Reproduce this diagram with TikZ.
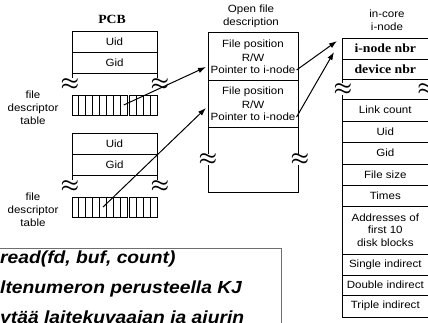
\documentclass[tikz,border=0pt]{standalone}
\usepackage{fontspec}
\setmainfont{Liberation Sans}[FakeStretch=1.1]
\newfontfamily\hdserif{Liberation Serif}[FakeStretch=1.1]
\usetikzlibrary{arrows.meta,positioning}
\definecolor{txtbox}{RGB}{110,110,110}
\tikzset{
  fld/.style={draw, line width=0.9pt, inner sep=0pt, outer sep=0pt,
              minimum width=85pt, minimum height=21pt, font=\fontsize{10.5}{12.5}\selectfont},
  inrow/.style={fld, minimum width=86.6pt, align=center},
  bfrow/.style={inrow, font=\hdserif\bfseries\fontsize{12.5}{14}\selectfont},
  fdc/.style={draw, line width=0.9pt, inner sep=0pt, outer sep=0pt,
              minimum width=6.9pt, minimum height=20pt},
  brk/.style={fill=white, inner sep=0pt, font=\boldmath\fontsize{20}{20}\selectfont},
  lbl/.style={align=center, inner sep=0pt, font=\fontsize{10.5}{13}\selectfont},
  txt/.style={inner sep=1pt, font=\fontsize{10.5}{12.5}\selectfont},
  hdr/.style={inner sep=0pt, font=\hdserif\bfseries\fontsize{12.5}{14}\selectfont},
  ptr/.style={-{Latex[length=8pt,width=5.5pt]}, line width=1pt},
  big/.style={anchor=base west, inner sep=0pt, font=\bfseries\itshape\fontsize{17.5}{20}\selectfont},
}
\newcommand{\pcbblock}[1]{%
  \node[fld] (#1uid) at (114.5,41.5) {Uid};
  \node[fld, below=0pt of #1uid] (#1gid) {Gid};
  \draw[line width=0.9pt] (72,73) -- (72,78);
  \draw[line width=0.9pt] (157,73) -- (157,78);
  \node[brk] (#1bl) at (70,84) {$\approx$};
  \node[brk] (#1br) at (160,84) {$\approx$};
  \foreach \i in {0,...,7}{\node[fdc] (#1fd\i) at (75.45+6.9*\i,105) {};}
  \foreach \i in {0,...,3}{\node[fdc, minimum width=7pt] (#1fe\i) at (132.5+7*\i,105) {};}
  \node[lbl] (#1lbl) at (33,108) {file\\descriptor\\table};}

\begin{document}
\begin{tikzpicture}[x=1pt, y=-1pt]
  \useasboundingbox (0,0) rectangle (428,322);
  % PCBs
  \node[hdr] (pcb) at (112,19) {PCB};
  \begin{scope}
    \pcbblock{a}
  \end{scope}
  \begin{scope}[shift={(0,102)}]
    \pcbblock{b}
  \end{scope}
  % open file description
  \node[lbl] (oftit) at (251,16.5) {Open file\\description};
  \node[fld, minimum width=90pt, minimum height=48pt] (of1) at (253,56) {};
  \node[txt] (fp1) at (253,45) {File position};
  \node[txt] (rw1) at (253,57.5) {R/W};
  \node[txt] (ptr1) at (253,70) {Pointer to i-node};
  \node[fld, minimum width=90pt, minimum height=47pt, below=0pt of of1] (of2) {};
  \node[txt] (fp2) at (253,92) {File position};
  \node[txt] (rw2) at (253,104.5) {R/W};
  \node[txt] (ptr2) at (253,117) {Pointer to i-node};
  \node[fld, minimum width=90pt, minimum height=65pt, below=0pt of of2] (ofr) {};
  \node[brk] (ofbl) at (ofr.west) {$\approx$};
  \node[brk] (ofbr) at ([xshift=2pt]ofr.east) {$\approx$};
  % in-core i-node
  \node[lbl] (ictit) at (387,20.5) {in-core\\i-node};
  \node[bfrow] (inbr) at (385.3,48.5) {i-node nbr};
  \node[bfrow, minimum height=20pt, below=0pt of inbr] (dnbr) {device nbr};
  \node[inrow, minimum height=20pt, below=0pt of dnbr] (ibrk) {};
  \node[brk] (ibl) at ([xshift=1pt]ibrk.west) {$\approx$};
  \node[brk] (ibr) at ([xshift=-2pt]ibrk.east) {$\approx$};
  \node[inrow, minimum height=22pt, below=0pt of ibrk] (lcnt) {Link count};
  \node[inrow, below=0pt of lcnt] (iuid) {Uid};
  \node[inrow, minimum height=22pt, below=0pt of iuid] (igid) {Gid};
  \node[inrow, below=0pt of igid] (fsize) {File size};
  \node[inrow, below=0pt of fsize] (times) {Times};
  \node[inrow, minimum height=48pt, below=0pt of times] (addr) {Addresses of\\first 10\\disk blocks};
  \node[inrow, below=0pt of addr] (sind) {Single indirect};
  \node[inrow, minimum height=20pt, below=0pt of sind] (dind) {Double indirect};
  \node[inrow, minimum height=22pt, below=0pt of dind] (tind) {Triple indirect};
  % pointers
  \coordinate (of1in) at (206,67);
  \coordinate (of2in) at (206,108);
  \coordinate (ic1) at (337,41);
  \coordinate (ic2) at (334,52);
  \draw[ptr] (afd7.center) -- (of1in);
  \draw[ptr] (bfd4.center) -- (of2in);
  \draw[ptr] (ptr1.east) -- (ic1);
  \draw[ptr] (ptr2.east) -- (ic2);
  % read call text
  \draw[txtbox, line width=0.9pt, fill=white] (-5,248) rectangle (281,340);
  \node[big] (rd) at (0,263) {read(fd, buf, count)};
  \node[big] (kj) at (0,293) {ltenumeron perusteella KJ};
  \node[big] (aj) at (0,323) {ytää laitekuvaajan ja ajurin};
\end{tikzpicture}
\end{document}
